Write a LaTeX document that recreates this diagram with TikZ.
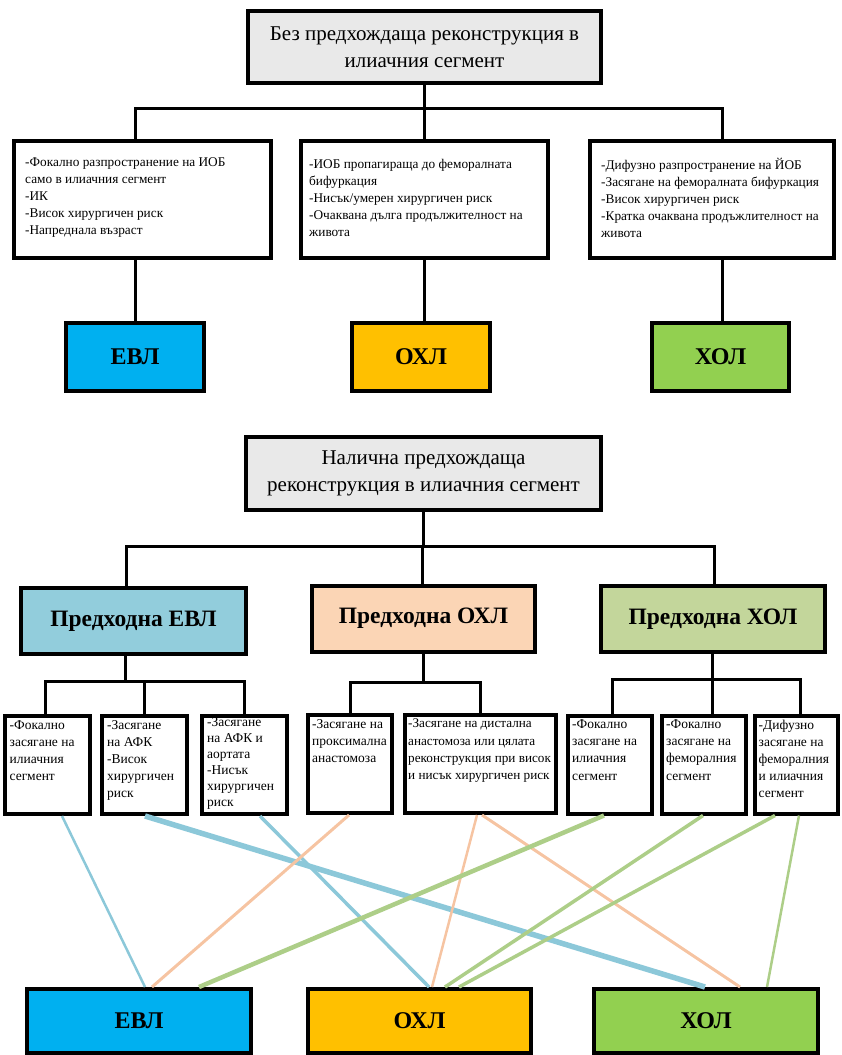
\documentclass[tikz,border=0pt]{standalone}
\usepackage{fontspec}
\setmainfont{Liberation Serif}
\begin{document}
\begin{tikzpicture}[x=1pt,y=-1pt,
  frame/.style={draw=black, line width=4pt, inner sep=0pt},
  headbox/.style={frame, fill=headgray, align=center, font=\fontsize{21}{27}\selectfont},
  listbox/.style={frame, fill=white},
  listtext/.style={align=left, inner sep=0pt, font=\fontsize{13.3}{17}\selectfont},
  cellbox/.style={frame, fill=white, minimum width=#1, minimum height=98},
  celltext/.style={align=left, inner sep=0pt, anchor=north west, font=\fontsize{13.5}{17.2}\selectfont},
  methodbox/.style={frame, font=\bfseries\fontsize{24}{26}\selectfont},
  priorbox/.style={frame, font=\bfseries\fontsize{23.5}{26}\selectfont, minimum width=224, minimum height=66},
  conn/.style={line width=3pt, black},
  link/.style={line width=#1},
]
\definecolor{headgray}{HTML}{E9E9E9}
\definecolor{evl}{HTML}{00B0F0}
\definecolor{ohl}{HTML}{FFC000}
\definecolor{hol}{HTML}{92D050}
\definecolor{pevl}{HTML}{92CDDC}
\definecolor{pohl}{HTML}{FBD5B5}
\definecolor{phol}{HTML}{C3D69B}
\definecolor{lblue}{HTML}{8CC8D9}
\definecolor{lpeach}{HTML}{F6C4A2}
\definecolor{lgreen}{HTML}{ADCE88}

\useasboundingbox (0,0) rectangle (841,1055);

% ---------- no previous iliac reconstruction ----------
\node[headbox, minimum width=353, minimum height=72] (A) at (424.5,47)
  {Без предхождаща реконструкция в\\илиачния сегмент};

\node[listbox, minimum width=257, minimum height=117] (B1) at (142.5,199.5) {};
\node[listbox, minimum width=247, minimum height=117] (B2) at (424.5,199.5) {};
\node[listbox, minimum width=244, minimum height=117] (B3) at (712,199.5) {};
\node[listtext, anchor=west] (B1t) at ([xshift=13pt,yshift=2pt]B1.west)
  {-Фокално разпространение на ИОБ\\само в илиачния сегмент\\-ИК\\-Висок хирургичен риск\\-Напреднала възраст};
\node[listtext, anchor=west] (B2t) at ([xshift=10pt,yshift=2pt]B2.west)
  {-ИОБ пропагираща до феморалната\\бифуркация\\-Нисък/умерен хирургичен риск\\-Очаквана дълга продължителност на\\живота};
\node[listtext, anchor=west] (B3t) at ([xshift=13pt,yshift=2pt]B3.west)
  {-Дифузно разпространение на ЙОБ\\-Засягане на феморалната бифуркация\\-Висок хирургичен риск\\-Кратка очаквана продъжлителност на\\живота};

\node[methodbox, fill=evl, minimum width=138, minimum height=68] (C1) at (135,357) {ЕВЛ};
\node[methodbox, fill=ohl, minimum width=138, minimum height=68] (C2) at (421,357) {ОХЛ};
\node[methodbox, fill=hol, minimum width=137, minimum height=68] (C3) at (720.5,357) {ХОЛ};

\coordinate (bus1) at (0,108);
\draw[conn] (A.south) -- (A.south |- bus1);
\draw[conn] ([xshift=-7.5pt]B1.north) |- ([xshift=10pt]B3.north |- bus1) -- ([xshift=10pt]B3.north);
\draw[conn] (B2.north) -- (B2.north |- bus1);
\draw[conn] ([xshift=-7.5pt]B1.south) -- ([xshift=-7.5pt]B1.south |- C1.north);
\draw[conn] (B2.south) -- (B2.south |- C2.north);
\draw[conn] ([xshift=10pt]B3.south) -- ([xshift=10pt]B3.south |- C3.north);

% ---------- previous iliac reconstruction present ----------
\node[headbox, minimum width=355, minimum height=73] (D) at (423.5,473.5)
  {Налична предхождаща\\реконструкция в илиачния сегмент};

\node[priorbox, fill=pevl, minimum width=225] (P1) at (133.5,621) {Предходна ЕВЛ};
\node[priorbox, fill=pohl, minimum width=223] (P2) at (423.5,618.5) {Предходна ОХЛ};
\node[priorbox, fill=phol] (P3) at (713,619) {Предходна ХОЛ};

\coordinate (bus2) at (0,546);
\draw[conn] (D.south) -- (D.south |- bus2);
\draw[conn] ([xshift=-7.5pt]P1.north) |- ([xshift=1pt]P3.north |- bus2) -- ([xshift=1pt]P3.north);
\draw[conn] ([xshift=-1.5pt]P2.north) -- ([xshift=-1.5pt]P2.north |- bus2);

% sub-criteria cells
\node[cellbox=85]  (s1) at (47.5,765)  {};
\node[cellbox=85]  (s2) at (144.5,765) {};
\node[cellbox=85]  (s3) at (244.5,765) {};
\node[cellbox=84]  (s4) at (350,764)   {};
\node[cellbox=151] (s5) at (480.5,764) {};
\node[cellbox=84]  (s6) at (610,764.5) {};
\node[cellbox=84]  (s7) at (704,764.5) {};
\node[cellbox=83]  (s8) at (796.5,764.5) {};

\node[celltext] (s1t) at ([shift={(6.5pt,-6pt)}]s1.north west)
  {-Фокално\\засягане на\\илиачния\\сегмент};
\node[celltext] (s2t) at ([shift={(7pt,-6pt)}]s2.north west)
  {-Засягане\\на АФК\\-Висок\\хирургичен\\риск};
\node[celltext, font=\fontsize{13.5}{16}\selectfont] (s3t) at ([shift={(7pt,-3.5pt)}]s3.north west)
  {-Засягане\\на АФК и\\аортата\\-Нисък\\хирургичен\\риск};
\node[celltext] (s4t) at ([shift={(6pt,-6pt)}]s4.north west)
  {-Засягане на\\проксимална\\анастомоза};
\node[celltext, font=\fontsize{13.2}{17.2}\selectfont] (s5t) at ([shift={(5pt,-6pt)}]s5.north west)
  {-Засягане на дистална\\анастомоза или цялата\\реконструкция при висок\\и нисък хирургичен риск};
\node[celltext] (s6t) at ([shift={(6pt,-6pt)}]s6.north west)
  {-Фокално\\засягане на\\илиачния\\сегмент};
\node[celltext] (s7t) at ([shift={(6pt,-6pt)}]s7.north west)
  {-Фокално\\засягане на\\феморалния\\сегмент};
\node[celltext] (s8t) at ([shift={(5.5pt,-6pt)}]s8.north west)
  {-Дифузно\\засягане на\\феморалния\\и илиачния\\сегмент};

% trees under the previous-treatment boxes
\coordinate (busP1) at (0,681);
\draw[conn] ([xshift=-8.5pt]P1.south) -- ([xshift=-8.5pt]P1.south |- busP1);
\draw[conn] ([xshift=-2.5pt]s1.north) |- (s3.north |- busP1) -- (s3.north);
\draw[conn] (s2.north) -- (s2.north |- busP1);

\coordinate (busP2) at (0,682);
\draw[conn] (P2.south) -- (P2.south |- busP2);
\draw[conn] (s4.north) |- (s5.north |- busP2) -- (s5.north);

\coordinate (busP3) at (0,679);
\draw[conn] ([xshift=-1pt]P3.south) -- ([xshift=-1pt]P3.south |- busP3);
\draw[conn] ([xshift=2pt]s6.north) |- ([xshift=3.5pt]s8.north |- busP3) -- ([xshift=3.5pt]s8.north);
\draw[conn] ([xshift=8pt]s7.north) -- ([xshift=8pt]s7.north |- busP3);

% resulting methods
\node[methodbox, fill=evl, minimum width=224, minimum height=64] (E1) at (139,1021) {ЕВЛ};
\node[methodbox, fill=ohl, minimum width=223, minimum height=64] (E2) at (419.5,1021) {ОХЛ};
\node[methodbox, fill=hol, minimum width=224, minimum height=64] (E3) at (706,1021) {ХОЛ};

% links from criteria to methods
\draw[link=2.5pt, lblue] ([xshift=14.5pt]s1.south) -- ([xshift=6pt]E1.north);
\draw[link=5.5pt, lblue] ([xshift=0.5pt]s2.south) -- ([xshift=-1pt]E3.north);
\draw[link=3.5pt, lblue] ([xshift=15.5pt]s3.south) -- ([xshift=9.5pt]E2.north);
\draw[link=3pt, lpeach] ([xshift=-1pt]s4.south) -- ([xshift=13pt]E1.north);
\draw[link=2.5pt, lpeach] ([xshift=-3.5pt]s5.south) -- ([xshift=12.5pt]E2.north);
\draw[link=3pt, lpeach] ([xshift=1.5pt]s5.south) -- ([xshift=34pt]E3.north);
\draw[link=4.5pt, lgreen] ([xshift=-6pt]s6.south) -- ([xshift=60pt]E1.north);
\draw[link=3.5pt, lgreen] ([xshift=-1pt]s7.south) -- ([xshift=25.5pt]E2.north);
\draw[link=3.5pt, lgreen] ([xshift=-21.5pt]s8.south) -- ([xshift=39.5pt]E2.north);
\draw[link=2.5pt, lgreen] ([xshift=2.5pt]s8.south) -- ([xshift=61pt]E3.north);
\end{tikzpicture}
\end{document}
